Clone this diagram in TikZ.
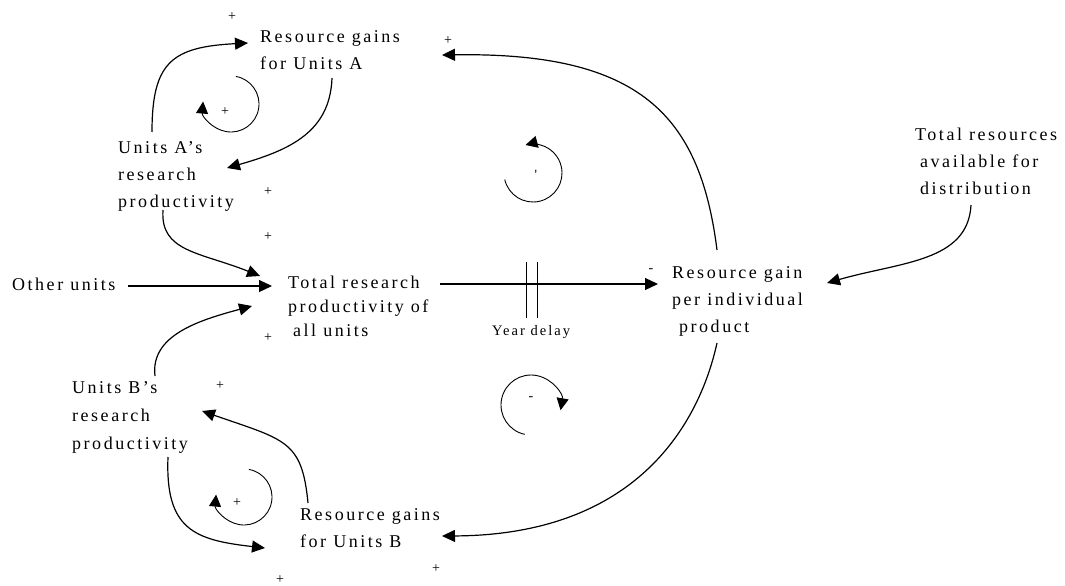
\documentclass[tikz,border=0pt]{standalone}
\usepackage{fontspec}
\setmainfont{Liberation Serif}[LetterSpace=14]
\usetikzlibrary{arrows.meta}
\newcommand{\mlines}[1]{\begin{tabular}[t]{@{}l@{}}#1\end{tabular}}
\begin{document}
\begin{tikzpicture}[x=1pt,y=-1pt,
  lbl/.style={inner sep=0pt, anchor=base west, font=\fontsize{18}{27}\selectfont},
  sgn/.style={inner sep=0pt, font=\fontsize{14}{14}\selectfont},
  conn/.style={line width=1.2pt, -{Triangle[length=13pt,width=12pt]}},
  loopar/.style={line width=0.9pt, -{Triangle[length=12pt,width=12pt]}},
  delaybar/.style={line width=0.9pt}]
\useasboundingbox (0,0) rectangle (1065,586);

% text nodes (base west = baseline of first line)
\node[lbl] (ra) at (260,43) {\mlines{Resource gains\\for Units A}};
\node[lbl] (ua) at (118,153) {\mlines{Units A’s\\research\\productivity}};
\node[lbl, font=\fontsize{18}{24}\selectfont] (tot) at (288,288) {\mlines{Total research\\productivity of\\\hspace{5pt}all units}};
\node[lbl] (oth) at (12,290) {Other units};
\node[lbl] (rg) at (672,278) {\mlines{Resource gain\\per individual\\\hspace{7pt}product}};
\node[lbl] (trs) at (915,140) {\mlines{Total resources\\\hspace{5pt}available for\\\hspace{5pt}distribution}};
\node[lbl, font=\fontsize{18}{28}\selectfont] (ub) at (72,393) {\mlines{Units B’s\\research\\productivity}};
\node[lbl] (rb) at (300,520) {\mlines{Resource gains\\for Units B}};
\node[lbl, font=\fontsize{14.5}{14.5}\selectfont] (yd) at (492,335) {Year delay};

% polarity signs
\node[sgn] (s1) at (232,17) {+};
\node[sgn] (s2) at (448,41) {+};
\node[sgn] (s3) at (225,112) {+};
\node[sgn] (s4) at (268,192) {+};
\node[sgn] (s5) at (268,237) {+};
\node[sgn] (s6) at (268,338) {+};
\node[sgn] (s7) at (220,386) {+};
\node[sgn] (s8) at (237,503) {+};
\node[sgn] (s9) at (280,580) {+};
\node[sgn] (s10) at (436,569) {+};
\node[sgn] (s11) at (651,271) {-};
\node[sgn] (s12) at (536,175) {\textquotesingle};
\node[sgn] (s13) at (531,399) {-};

% connectors
\draw[conn] ([shift={(34,-21)}]ua.base west) .. controls +(0,-70) and +(-76,4) .. ([shift={(-12,0)}]ra.base west);
\draw[conn] ([shift={(72,35)}]ra.base west) .. controls +(-2,54) and +(63,-18) .. ([shift={(109,15)}]ua.base west);
\draw[conn] ([shift={(45,-28)}]rg.base west) .. controls +(-17,-135) and +(198,-3) .. ([shift={(182,12)}]ra.base west);
\draw[conn] ([shift={(45,57)}]ua.base west) .. controls +(-3,42) and +(-60,-24) .. ([shift={(-28,-12)}]tot.base west);
\draw[conn] ([shift={(116,-4)}]oth.base west) -- ([shift={(-16,-2)}]tot.base west);
\draw[conn] ([shift={(83,-17)}]ub.base west) .. controls +(-5,-41) and +(-52,14) .. ([shift={(-36,18)}]tot.base west);
\draw[conn] ([shift={(152,-4)}]tot.base west) -- ([shift={(-14,6)}]rg.base west);
\draw[conn] ([shift={(56,65)}]trs.base west) .. controls +(-3,57) and +(73,-21) .. ([shift={(155,5)}]rg.base west);
\draw[conn] ([shift={(45,65)}]rg.base west) .. controls +(-17,77) and +(198,-1) .. ([shift={(142,16)}]rb.base west);
\draw[conn] ([shift={(8,-17)}]rb.base west) .. controls +(-6,-63) and +(83,29) .. ([shift={(130,18)}]ub.base west);
\draw[conn] ([shift={(96,64)}]ub.base west) .. controls +(-3,73) and +(-70,-8) .. ([shift={(-35,28)}]rb.base west);

% delay marks
\draw[delaybar] (526,262) -- (526,318);
\draw[delaybar] (537,262) -- (537,318);

% loop symbols
\coordinate (cA) at (231,104);
\coordinate (cB) at (244,497);
\coordinate (cU) at (533,173);
\coordinate (cL) at (531,405);
\draw[loopar] (cA) ++(-80:28) arc[start angle=-80, end angle=185, radius=28];
\draw[loopar] (cB) ++(-80:28) arc[start angle=-80, end angle=185, radius=28];
\draw[loopar] (cU) ++(167:29) arc[start angle=167, end angle=-105, radius=29];
\draw[loopar] (cL) ++(102:30) arc[start angle=102, end angle=370, radius=30];
\end{tikzpicture}
\end{document}
